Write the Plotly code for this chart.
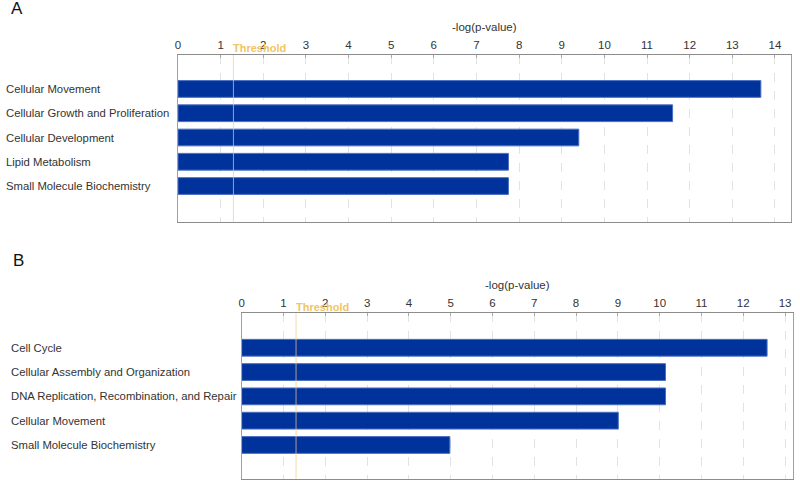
import plotly.graph_objects as go

# Panel A data
cats_a = ["Cellular Movement", "Cellular Growth and Proliferation", "Cellular Development",
          "Lipid Metabolism", "Small Molecule Biochemistry"]
vals_a = [13.67, 11.6, 9.4, 7.75, 7.75]
ticks_a = list(range(0, 15))

# Panel B data
cats_b = ["Cell Cycle", "Cellular Assembly and Organization",
          "DNA Replication, Recombination, and Repair", "Cellular Movement",
          "Small Molecule Biochemistry"]
vals_b = [12.57, 10.14, 10.14, 9.01, 4.98]
ticks_b = list(range(0, 14))

threshold = 1.3

W, H = 800, 488
FONT = "Liberation Sans, Arial, sans-serif"
TXT = "#333333"
BAR = "#00329c"
BAR_EDGE = "#4a6fc0"

fig = go.Figure()

fig.add_trace(go.Bar(x=vals_a, y=list(range(len(cats_a))), orientation="h",
                     marker=dict(color=BAR, line=dict(color=BAR_EDGE, width=1)),
                     width=0.69, xaxis="x", yaxis="y", showlegend=False))
fig.add_trace(go.Bar(x=vals_b, y=list(range(len(cats_b))), orientation="h",
                     marker=dict(color=BAR, line=dict(color=BAR_EDGE, width=1)),
                     width=0.69, xaxis="x2", yaxis="y2", showlegend=False))

def xax(domain, rng, ticks, anchor):
    return dict(domain=domain, range=rng, side="top", anchor=anchor, automargin=False,
                tickvals=ticks, ticktext=[str(t) for t in ticks],
                tickfont=dict(family=FONT, size=11.5, color=TXT),
                showline=True, linecolor="#8c8c8c", linewidth=1, mirror=True,
                ticks="inside", ticklen=3, tickcolor="#aaaaaa",
                showgrid=True, gridcolor="#e2e2e2", griddash="dash", gridwidth=1,
                zeroline=False, fixedrange=True)

def yax(domain, rng, anchor):
    return dict(domain=domain, range=rng, anchor=anchor, showticklabels=False,
                automargin=False,
                showgrid=False, zeroline=False, showline=True, linecolor="#a0a0a0",
                linewidth=1, mirror=True, ticks="", fixedrange=True)

xa0, xa1 = 178 / W, 790.7 / W
xb0, xb1 = 241.7 / W, 793 / W
ya = [1 - 221.7 / H, 1 - 55 / H]
yb = [1 - 479 / H, 1 - 313 / H]

fig.update_layout(
    width=W, height=H, margin=dict(l=0, r=0, t=0, b=0, autoexpand=False),
    paper_bgcolor="white", plot_bgcolor="white",
    xaxis=xax([xa0, xa1], [0, 14.37], ticks_a, "y"),
    yaxis=yax(ya, [5.47, -1.40], "x"),
    xaxis2=xax([xb0, xb1], [0, 13.19], ticks_b, "y2"),
    yaxis2=yax(yb, [5.40, -1.43], "x2"),
    bargap=0.3,
)

ann = []
# category labels (left aligned)
for i, c in enumerate(cats_a):
    ann.append(dict(x=4 / W, y=i, xref="paper", yref="y", text=c, showarrow=False,
                    xanchor="left", yanchor="middle",
                    font=dict(family=FONT, size=11.3, color=TXT)))
for i, c in enumerate(cats_b):
    ann.append(dict(x=9 / W, y=i, xref="paper", yref="y2", text=c, showarrow=False,
                    xanchor="left", yanchor="middle",
                    font=dict(family=FONT, size=11.3, color=TXT)))
# axis titles
ann.append(dict(x=(xa0 + xa1) / 2, y=1 - 27 / H, xref="paper", yref="paper",
                text="-log(p-value)", showarrow=False, xanchor="center", yanchor="middle",
                font=dict(family=FONT, size=11.5, color=TXT)))
ann.append(dict(x=(xb0 + xb1) / 2, y=1 - 285 / H, xref="paper", yref="paper",
                text="-log(p-value)", showarrow=False, xanchor="center", yanchor="middle",
                font=dict(family=FONT, size=11.5, color=TXT)))
# threshold labels
ann.append(dict(x=threshold, y=1 - 48 / H, xref="x", yref="paper", text="<b>Threshold</b>",
                showarrow=False, xanchor="left", yanchor="middle", xshift=-2,
                font=dict(family=FONT, size=11, color="#f2c462")))
ann.append(dict(x=threshold, y=1 - 307 / H, xref="x2", yref="paper", text="<b>Threshold</b>",
                showarrow=False, xanchor="left", yanchor="middle", xshift=-2,
                font=dict(family=FONT, size=11, color="#f2c462")))
# panel letters
ann.append(dict(x=9 / W, y=1 - 9 / H, xref="paper", yref="paper", text="A", showarrow=False,
                xanchor="left", yanchor="middle", font=dict(family=FONT, size=17, color="#111111")))
ann.append(dict(x=11 / W, y=1 - 260 / H, xref="paper", yref="paper", text="B", showarrow=False,
                xanchor="left", yanchor="middle", font=dict(family=FONT, size=17, color="#111111")))
fig.update_layout(annotations=ann)

# threshold lines
fig.add_shape(type="line", x0=threshold, x1=threshold, y0=ya[0], y1=ya[1],
              xref="x", yref="paper", line=dict(color="#f0cf8a", width=1), opacity=0.7,
              layer="above")
fig.add_shape(type="line", x0=threshold, x1=threshold, y0=yb[0], y1=yb[1],
              xref="x2", yref="paper", line=dict(color="#f0cf8a", width=1), opacity=0.7,
              layer="above")

fig.write_html("out.html", config={"displayModeBar": False, "staticPlot": True},
               post_script="document.body.style.margin='0';document.body.style.overflow='hidden';")
